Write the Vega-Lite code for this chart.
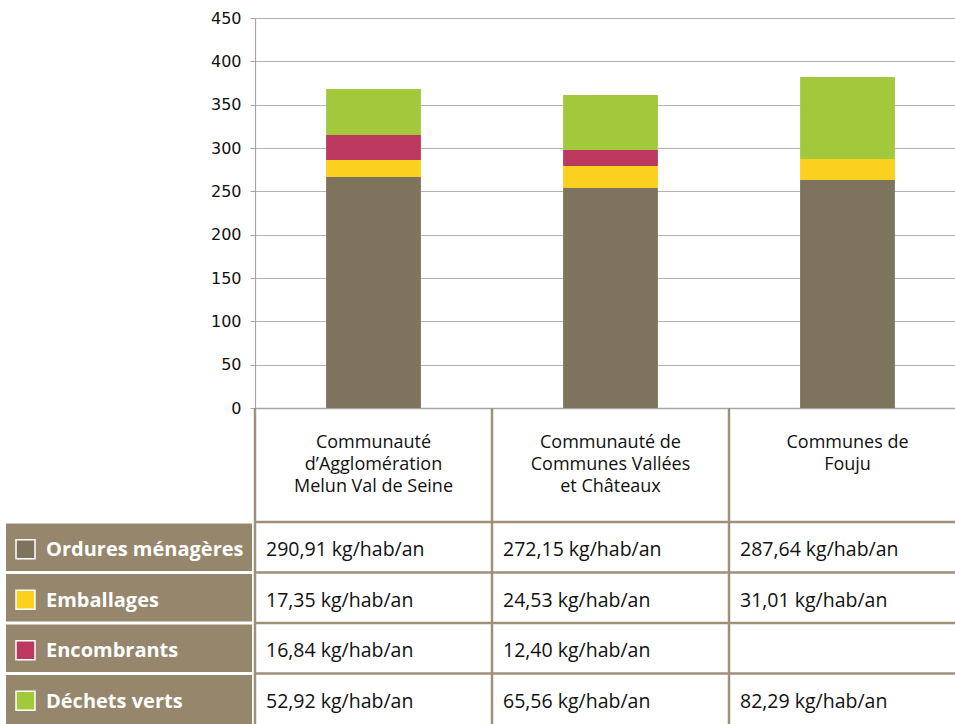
{
  "$schema": "https://vega.github.io/schema/vega-lite/v6.json",
  "background": "white",
  "padding": {"left": 4, "top": 10, "right": 0, "bottom": 0},
  "config": {"view": {"stroke": null}, "font": "Open Sans"},
  "datasets": {
    "bars": [
      {"commune": "Melun Val de Seine", "type": "Ordures ménagères", "k": 1, "kg": 266.5},
      {"commune": "Melun Val de Seine", "type": "Emballages", "k": 2, "kg": 19.7},
      {"commune": "Melun Val de Seine", "type": "Encombrants", "k": 3, "kg": 28.8},
      {"commune": "Melun Val de Seine", "type": "Déchets verts", "k": 4, "kg": 53.1},
      {"commune": "Vallées et Châteaux", "type": "Ordures ménagères", "k": 1, "kg": 253.8},
      {"commune": "Vallées et Châteaux", "type": "Emballages", "k": 2, "kg": 25.4},
      {"commune": "Vallées et Châteaux", "type": "Encombrants", "k": 3, "kg": 18.5},
      {"commune": "Vallées et Châteaux", "type": "Déchets verts", "k": 4, "kg": 63.5},
      {"commune": "Fouju", "type": "Ordures ménagères", "k": 1, "kg": 263.1},
      {"commune": "Fouju", "type": "Emballages", "k": 2, "kg": 24.2},
      {"commune": "Fouju", "type": "Déchets verts", "k": 4, "kg": 94.6}
    ],
    "table": [
      {"commune": "Melun Val de Seine", "type": "Ordures ménagères", "txt": "290,91 kg/hab/an"},
      {"commune": "Melun Val de Seine", "type": "Emballages", "txt": "17,35 kg/hab/an"},
      {"commune": "Melun Val de Seine", "type": "Encombrants", "txt": "16,84 kg/hab/an"},
      {"commune": "Melun Val de Seine", "type": "Déchets verts", "txt": "52,92 kg/hab/an"},
      {"commune": "Vallées et Châteaux", "type": "Ordures ménagères", "txt": "272,15 kg/hab/an"},
      {"commune": "Vallées et Châteaux", "type": "Emballages", "txt": "24,53 kg/hab/an"},
      {"commune": "Vallées et Châteaux", "type": "Encombrants", "txt": "12,40 kg/hab/an"},
      {"commune": "Vallées et Châteaux", "type": "Déchets verts", "txt": "65,56 kg/hab/an"},
      {"commune": "Fouju", "type": "Ordures ménagères", "txt": "287,64 kg/hab/an"},
      {"commune": "Fouju", "type": "Emballages", "txt": "31,01 kg/hab/an"},
      {"commune": "Fouju", "type": "Déchets verts", "txt": "82,29 kg/hab/an"}
    ],
    "communes": [
      {"commune": "Melun Val de Seine", "header": "Communauté\nd’Agglomération\nMelun Val de Seine"},
      {"commune": "Vallées et Châteaux", "header": "Communauté de\nCommunes Vallées\net Châteaux"},
      {"commune": "Fouju", "header": "Communes de\nFouju"}
    ],
    "cats": [
      {"type": "Ordures ménagères"},
      {"type": "Emballages"},
      {"type": "Encombrants"},
      {"type": "Déchets verts"}
    ]
  },
  "columns": 2,
  "spacing": {"row": 0, "column": 3},
  "bounds": "flush",
  "align": "each",
  "concat": [
    {"width": 246, "height": 390, "data": {"values": []}, "mark": "point"},
    {
      "width": 711,
      "height": 390,
      "data": {"name": "bars"},
      "mark": {"type": "bar"},
      "encoding": {
        "x": {
          "field": "commune", "type": "nominal",
          "scale": {"domain": ["Melun Val de Seine", "Vallées et Châteaux", "Fouju"], "paddingInner": 0.6, "paddingOuter": 0.3},
          "axis": {"labels": false, "ticks": false, "title": null, "domainColor": "#a6a6a6", "domainWidth": 1.5}
        },
        "y": {
          "field": "kg", "type": "quantitative", "stack": "zero",
          "scale": {"domain": [0, 450], "nice": false},
          "axis": {
            "values": [0, 50, 100, 150, 200, 250, 300, 350, 400, 450],
            "title": null, "grid": true, "gridColor": "#b3b3b3", "gridWidth": 1.2,
            "domainColor": "#a6a6a6", "domainWidth": 1.2, "tickColor": "#a6a6a6", "tickSize": 5,
            "labelPadding": 9, "labelFont": "DejaVu Sans", "labelFontSize": 16, "labelColor": "#111111",
            "labelOverlap": false
          }
        },
        "color": {
          "field": "type", "type": "nominal",
          "scale": {"domain": ["Ordures ménagères", "Emballages", "Encombrants", "Déchets verts"], "range": ["#7e745d", "#fbd01e", "#bd385e", "#a2c93b"]},
          "legend": null
        },
        "order": {"field": "k", "type": "quantitative", "sort": "ascending"}
      }
    },
    {"width": 246, "height": 114, "data": {"values": []}, "mark": "point"},
    {
      "width": 711,
      "height": 114,
      "data": {"name": "communes"},
      "encoding": {
        "x": {
          "field": "commune", "type": "nominal",
          "scale": {"domain": ["Melun Val de Seine", "Vallées et Châteaux", "Fouju"], "paddingInner": 0, "paddingOuter": 0},
          "axis": null
        }
      },
      "layer": [
        {
          "mark": {"type": "rule", "color": "#a09079", "strokeWidth": 2.5},
          "encoding": {"x": {"field": "commune", "type": "nominal", "bandPosition": 0}}
        },
        {
          "mark": {"type": "text", "lineBreak": "\n", "lineHeight": 22, "fontSize": 18, "font": "Open Sans", "color": "#111111", "align": "center", "baseline": "middle", "dy": -22},
          "encoding": {"text": {"field": "header"}}
        }
      ]
    },
    {
      "width": 246,
      "height": 202,
      "data": {"name": "cats"},
      "encoding": {
        "y": {
          "field": "type", "type": "nominal",
          "scale": {"domain": ["Ordures ménagères", "Emballages", "Encombrants", "Déchets verts"], "paddingInner": 0, "paddingOuter": 0},
          "axis": null
        }
      },
      "layer": [
        {"mark": {"type": "rect", "color": "#96866b"}},
        {
          "mark": {"type": "rule", "color": "white", "strokeWidth": 3},
          "encoding": {"y": {"field": "type", "type": "nominal", "bandPosition": 0}}
        },
        {
          "mark": {"type": "point", "shape": "square", "size": 361, "filled": true, "opacity": 1, "stroke": "white", "strokeWidth": 1.5, "xOffset": -103.5, "yOffset": 2},
          "encoding": {
            "color": {
              "field": "type", "type": "nominal",
              "scale": {"domain": ["Ordures ménagères", "Emballages", "Encombrants", "Déchets verts"], "range": ["#7e745d", "#fbd01e", "#bd385e", "#a2c93b"]},
              "legend": null
            }
          }
        },
        {
          "mark": {"type": "text", "align": "left", "baseline": "middle", "dx": -83, "dy": 3, "font": "Open Sans", "fontWeight": "bold", "fontSize": 20, "color": "white"},
          "encoding": {"text": {"field": "type"}}
        }
      ]
    },
    {
      "width": 711,
      "height": 202,
      "layer": [
        {
          "data": {"name": "table"},
          "mark": {"type": "text", "align": "left", "baseline": "middle", "dx": 11, "dy": 3, "font": "Open Sans", "fontSize": 19.5, "color": "#111111"},
          "encoding": {
            "x": {
              "field": "commune", "type": "nominal", "bandPosition": 0,
              "scale": {"domain": ["Melun Val de Seine", "Vallées et Châteaux", "Fouju"], "paddingInner": 0, "paddingOuter": 0},
              "axis": null
            },
            "y": {
              "field": "type", "type": "nominal",
              "scale": {"domain": ["Ordures ménagères", "Emballages", "Encombrants", "Déchets verts"], "paddingInner": 0, "paddingOuter": 0},
              "axis": null
            },
            "text": {"field": "txt"}
          }
        },
        {
          "data": {"name": "cats"},
          "mark": {"type": "rule", "color": "#a09079", "strokeWidth": 2.5},
          "encoding": {"y": {"field": "type", "type": "nominal", "bandPosition": 0}}
        },
        {
          "data": {"name": "communes"},
          "mark": {"type": "rule", "color": "#a09079", "strokeWidth": 2.5},
          "encoding": {"x": {"field": "commune", "type": "nominal", "bandPosition": 0}}
        }
      ]
    }
  ]
}
